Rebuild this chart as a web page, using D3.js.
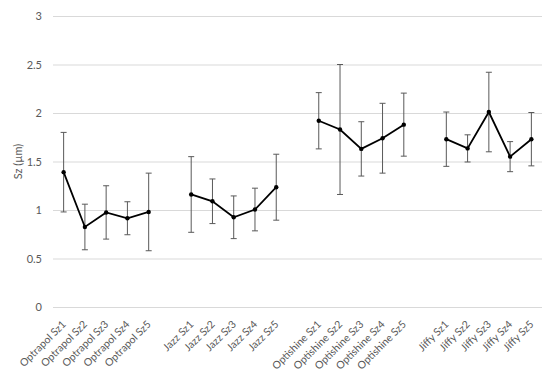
<!DOCTYPE html>
<html lang="en">
<head>
    <meta charset="UTF-8">
    <title>Sz</title>
    <script src="https://d3js.org/d3.v7.min.js"></script>
    <style>
        body { margin: 0; background: #fff; }
        svg { color: #595959; }
        text { font-family: Lato, "Open Sans", sans-serif; fill: #595959; }
        .grid line { stroke: #d9d9d9; stroke-width: 1px; }
        .err { stroke: #595959; stroke-width: 1px; }
        .series { fill: none; stroke: #000; stroke-width: 1.8px; }
    </style>
</head>
<body>
<script>
    // groups of 5 samples, empty slot between groups
    const categories = [
        'Optrapol Sz1', 'Optrapol Sz2', 'Optrapol Sz3', 'Optrapol Sz4', 'Optrapol Sz5', '',
        'Jazz Sz1', 'Jazz Sz2', 'Jazz Sz3', 'Jazz Sz4', 'Jazz Sz5', ' ',
        'Optishine Sz1', 'Optishine Sz2', 'Optishine Sz3', 'Optishine Sz4', 'Optishine Sz5', '  ',
        'Jiffy Sz1', 'Jiffy Sz2', 'Jiffy Sz3', 'Jiffy Sz4', 'Jiffy Sz5'
    ];
    const groups = [
        ['Optrapol Sz1', 'Optrapol Sz2', 'Optrapol Sz3', 'Optrapol Sz4', 'Optrapol Sz5'],
        ['Jazz Sz1', 'Jazz Sz2', 'Jazz Sz3', 'Jazz Sz4', 'Jazz Sz5'],
        ['Optishine Sz1', 'Optishine Sz2', 'Optishine Sz3', 'Optishine Sz4', 'Optishine Sz5'],
        ['Jiffy Sz1', 'Jiffy Sz2', 'Jiffy Sz3', 'Jiffy Sz4', 'Jiffy Sz5']
    ];
    const means = [
        [1.39, 0.825, 0.975, 0.915, 0.98],
        [1.16, 1.09, 0.925, 1.005, 1.235],
        [1.92, 1.83, 1.63, 1.74, 1.88],
        [1.73, 1.635, 2.01, 1.55, 1.73]
    ];
    const sds = [
        [0.41, 0.235, 0.275, 0.17, 0.40],
        [0.39, 0.23, 0.22, 0.22, 0.34],
        [0.29, 0.67, 0.28, 0.36, 0.325],
        [0.28, 0.14, 0.41, 0.155, 0.275]
    ];
    const yTicks = [0, 0.5, 1, 1.5, 2, 2.5, 3];

    const width = 550, height = 376;
    const mLeft = 53, mRight = 542, mTop = 16, mBottom = 307;

    const svg = d3.select('body').append('svg')
        .attr('width', width)
        .attr('height', height);

    const x = d3.scaleBand().domain(categories).range([mLeft, mRight]);
    const y = d3.scaleLinear().domain([0, 3]).range([mBottom, mTop]);

    const yAxis = svg.append('g')
        .attr('class', 'grid')
        .attr('transform', `translate(${mLeft},0)`)
        .call(d3.axisLeft(y).tickValues(yTicks).tickSize(-(mRight - mLeft)).tickPadding(11)
            .tickFormat(d3.format('')));
    yAxis.select('.domain').remove();
    yAxis.selectAll('text').style('font-size', '11px');

    const xAxis = svg.append('g')
        .attr('transform', `translate(0,${mBottom})`)
        .call(d3.axisBottom(x).tickSize(0));
    xAxis.select('.domain').remove();
    xAxis.selectAll('text')
        .style('font-size', '10.5px')
        .attr('text-anchor', 'end')
        .attr('dy', null)
        .attr('y', 0)
        .attr('transform', 'translate(3,18) rotate(-45)');

    svg.append('text')
        .attr('transform', `translate(22,${(mTop + mBottom) / 2}) rotate(-90)`)
        .attr('text-anchor', 'middle')
        .style('font-size', '11px')
        .text('Sz (\u00b5m)');

    const cx = d => x(d) + x.bandwidth() / 2;
    const line = d3.line().x(d => cx(d.c)).y(d => y(d.m));

    groups.forEach((g, gi) => {
        const pts = g.map((c, i) => ({ c, m: means[gi][i], s: sds[gi][i] }));
        const eg = svg.append('g');
        pts.forEach(p => {
            const px = cx(p.c);
            eg.append('line').attr('class', 'err')
                .attr('x1', px).attr('x2', px)
                .attr('y1', y(p.m + p.s)).attr('y2', y(p.m - p.s));
            [p.m + p.s, p.m - p.s].forEach(v => {
                eg.append('line').attr('class', 'err')
                    .attr('x1', px - 3).attr('x2', px + 3)
                    .attr('y1', y(v)).attr('y2', y(v));
            });
        });
        svg.append('path').datum(pts).attr('class', 'series').attr('d', line);
        svg.append('g').selectAll('circle').data(pts).enter().append('circle')
            .attr('cx', d => cx(d.c)).attr('cy', d => y(d.m)).attr('r', 2.2)
            .attr('fill', '#000');
    });
</script>
</body>
</html>
